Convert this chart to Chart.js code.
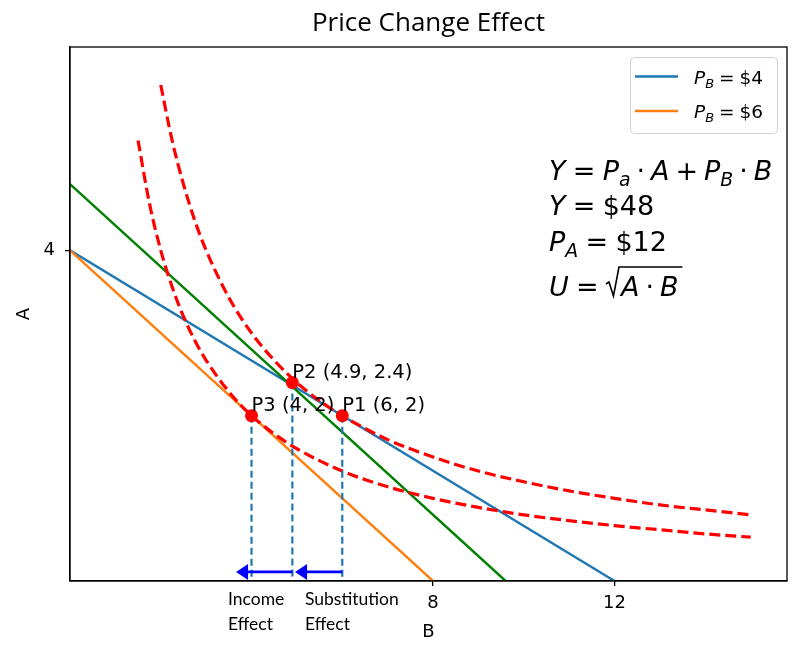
<!DOCTYPE html>
<html lang="en">
<head>
    <meta charset="UTF-8" />
    <title>Price Change Effect</title>
    <script src="https://cdn.jsdelivr.net/npm/chart.js"></script>
    <style>
        body {
            margin: 0;
            background-color: #ffffff;
        }
    </style>
</head>
<body>

<canvas id="priceChart" width="800" height="657"></canvas>

<script>
    // budget lines (B intercept, A intercept)
    const lineB4 = [0, 12];
    const lineA4 = [4, 0];
    const lineB6 = [0, 8];
    const lineA6 = [4, 0];
    const compB = [0, 9.6];
    const compA = [4.8, 0];

    // indifference curves
    const highCurveB = [2, 2.25, 2.5, 2.75, 3, 3.5, 4, 4.5, 5, 5.5, 6, 7, 8, 9, 10, 11, 12, 13, 14, 15];
    const highCurveA = [6, 5.33, 4.8, 4.36, 4, 3.43, 3, 2.67, 2.4, 2.18, 2, 1.71, 1.5, 1.33, 1.2, 1.09, 1, 0.92, 0.86, 0.8];
    const lowCurveB = [1.5, 1.75, 2, 2.25, 2.5, 2.75, 3, 3.5, 4, 4.5, 5, 6, 7, 8, 9, 10, 11, 12, 13, 14, 15];
    const lowCurveA = [5.33, 4.57, 4, 3.56, 3.2, 2.91, 2.67, 2.29, 2, 1.78, 1.6, 1.33, 1.14, 1, 0.89, 0.8, 0.73, 0.67, 0.62, 0.57, 0.53];

    // equilibrium points
    const pointB = [6, 4.9, 4];
    const pointA = [2, 2.4, 2];
    const pointLabels = ['P1 (6, 2)', 'P2 (4.9, 2.4)', 'P3 (4, 2)'];

    // effect arrows
    const arrowFrom = [6, 4.9];
    const arrowTo = [4.96, 3.66];
    const arrowLevel = 0.11;

    const xTicks = [8, 12];
    const yTicks = [4];

    const legendLabels = ['$4', '$6'];
    const legendColors = ['#1f77b4', '#ff7f0e'];

    const toXY = (bs, as) => bs.map((b, i) => ({x: b, y: as[i]}));

    const datasets = [
        {data: toXY(pointB, pointA), showLine: false, pointRadius: 6.5, pointBackgroundColor: 'red', pointBorderWidth: 0, order: 0},
        ...pointB.map((b, i) => ({
            data: toXY([b, b], [pointA[i], 0]),
            showLine: true, borderColor: '#1f77b4', borderWidth: 2.2, borderDash: [7, 4], pointRadius: 0, order: 1
        })),
        {data: toXY(highCurveB, highCurveA), showLine: true, borderColor: 'red', borderWidth: 3.2, borderDash: [11, 5], cubicInterpolationMode: 'monotone', pointRadius: 0, order: 2},
        {data: toXY(lowCurveB, lowCurveA), showLine: true, borderColor: 'red', borderWidth: 3.2, borderDash: [11, 5], cubicInterpolationMode: 'monotone', pointRadius: 0, order: 2},
        {data: toXY(compB, compA), showLine: true, borderColor: 'green', borderWidth: 2.4, pointRadius: 0, order: 3},
        {data: toXY(lineB6, lineA6), showLine: true, borderColor: '#ff7f0e', borderWidth: 2.4, pointRadius: 0, order: 3},
        {data: toXY(lineB4, lineA4), showLine: true, borderColor: '#1f77b4', borderWidth: 2.4, pointRadius: 0, order: 3}
    ];

    // draws a row of math pieces: [text, 'i' italic | 'r' roman | 's' subscript | 'g' gap]
    function mathRow(ctx, x, y, parts, size) {
        let cx = x;
        parts.forEach(([t, k]) => {
            if (k === 'g') { cx += t * size; return; }
            const fs = k === 's' ? size * 0.7 : size;
            ctx.font = (k === 'r' ? '' : 'italic ') + fs + 'px "DejaVu Sans"';
            ctx.fillText(t, cx, y + (k === 's' ? size * 0.22 : 0));
            cx += ctx.measureText(t).width;
        });
        return cx;
    }

    const R = 0.27;  // space around relations
    const M = 0.22;  // space around binary operators
    const extras = {
        id: 'extras',
        afterDatasetsDraw(chart) {
            const ctx = chart.ctx;
            const xs = chart.scales.x, ys = chart.scales.y;
            const area = chart.chartArea;
            ctx.save();

            // title, centred over the plot box
            ctx.fillStyle = '#000';
            ctx.font = '26px "Open Sans"';
            ctx.textAlign = 'center';
            ctx.textBaseline = 'middle';
            ctx.fillText('Price Change Effect', (area.left + area.right) / 2, 24);
            ctx.textAlign = 'left';

            // frame
            ctx.strokeStyle = '#000';
            ctx.lineWidth = 1.3;
            ctx.strokeRect(area.left, area.top, area.right - area.left, area.bottom - area.top);

            // arrows
            ctx.strokeStyle = 'blue';
            ctx.fillStyle = 'blue';
            arrowFrom.forEach((b, i) => {
                const x1 = xs.getPixelForValue(b);
                const x2 = xs.getPixelForValue(arrowTo[i]);
                const y = ys.getPixelForValue(arrowLevel);
                ctx.lineWidth = 2.8;
                ctx.beginPath();
                ctx.moveTo(x1, y);
                ctx.lineTo(x2 + 8, y);
                ctx.stroke();
                ctx.beginPath();
                ctx.moveTo(x2, y);
                ctx.lineTo(x2 + 12, y - 8);
                ctx.lineTo(x2 + 12, y + 8);
                ctx.closePath();
                ctx.fill();
            });

            // point labels
            ctx.fillStyle = '#000';
            ctx.font = '19.5px "DejaVu Sans"';
            ctx.textBaseline = 'middle';
            pointLabels.forEach((t, i) => {
                ctx.fillText(t, xs.getPixelForValue(pointB[i]), ys.getPixelForValue(pointA[i]) - 10);
            });

            // effect captions
            ctx.font = '17.5px Lato';
            ctx.fillText('Income', 228, 599);
            ctx.fillText('Effect', 228, 624);
            ctx.fillText('Substitution', 305, 599);
            ctx.fillText('Effect', 305, 624);

            // legend
            ctx.strokeStyle = '#d0d0d0';
            ctx.lineWidth = 1;
            ctx.fillStyle = 'rgba(255,255,255,0.8)';
            ctx.beginPath();
            ctx.roundRect(630.5, 57.5, 147, 76, 4);
            ctx.fill();
            ctx.stroke();
            ctx.textBaseline = 'alphabetic';
            legendLabels.forEach((t, i) => {
                const y = 76.5 + i * 34.5;
                ctx.strokeStyle = legendColors[i];
                ctx.lineWidth = 2.4;
                ctx.beginPath();
                ctx.moveTo(635, y);
                ctx.lineTo(678, y);
                ctx.stroke();
                ctx.fillStyle = '#000';
                mathRow(ctx, 694, y + 7, [['P', 'i'], ['B', 's'], [R, 'g'], ['=', 'r'], [R, 'g'], [t, 'r']], 18.5);
            });

            // formula block
            const fs = 27;
            mathRow(ctx, 549, 180, [['Y', 'i'], [R, 'g'], ['=', 'r'], [R, 'g'], ['P', 'i'], ['a', 's'], [M, 'g'], ['\u00b7', 'r'], [M, 'g'],
                ['A', 'i'], [M, 'g'], ['+', 'r'], [M, 'g'], ['P', 'i'], ['B', 's'], [M, 'g'], ['\u00b7', 'r'], [M, 'g'], ['B', 'i']], fs);
            mathRow(ctx, 549, 215, [['Y', 'i'], [R, 'g'], ['=', 'r'], [R, 'g'], ['$48', 'r']], fs);
            mathRow(ctx, 549, 251, [['P', 'i'], ['A', 's'], [R, 'g'], ['=', 'r'], [R, 'g'], ['$12', 'r']], fs);
            const by = 296;
            const sx = mathRow(ctx, 549, by, [['U', 'i'], [R, 'g'], ['=', 'r'], [R, 'g']], fs);
            const ex = mathRow(ctx, sx + 15, by, [['A', 'i'], [M, 'g'], ['\u00b7', 'r'], [M, 'g'], ['B', 'i']], fs);
            // radical sign
            ctx.strokeStyle = '#000';
            ctx.lineWidth = 1.6;
            ctx.beginPath();
            ctx.moveTo(sx, by - 12);
            ctx.lineTo(sx + 3, by - 14);
            ctx.lineTo(sx + 7.5, by);
            ctx.lineTo(sx + 13, by - 29);
            ctx.lineTo(ex + 4, by - 29);
            ctx.stroke();

            ctx.restore();
        }
    };

    new Chart(document.getElementById('priceChart'), {
        type: 'scatter',
        data: {datasets: datasets},
        options: {
            responsive: false,
            animation: false,
            layout: {padding: {left: 0, right: 13, top: 47, bottom: 0}},
            scales: {
                x: {
                    type: 'linear',
                    min: 0,
                    max: 15.8,
                    afterBuildTicks: s => { s.ticks = xTicks.map(v => ({value: v})); },
                    afterFit: s => { s.height = 76; },
                    grid: {drawOnChartArea: false, tickLength: 5, color: '#000', lineWidth: 1.3},
                    border: {color: '#000', width: 1.3},
                    ticks: {autoSkip: false, color: '#000', padding: 7, font: {family: 'DejaVu Sans', size: 18}},
                    title: {display: true, text: 'B', color: '#000', padding: {top: 0, bottom: 14}, font: {family: 'DejaVu Sans', size: 18}}
                },
                y: {
                    type: 'linear',
                    min: 0,
                    max: 6.46,
                    afterBuildTicks: s => { s.ticks = yTicks.map(v => ({value: v})); },
                    afterFit: s => { s.width = 70; },
                    grid: {drawOnChartArea: false, tickLength: 5, color: '#000', lineWidth: 1.3},
                    border: {color: '#000', width: 1.3},
                    ticks: {autoSkip: false, color: '#000', padding: 10, font: {family: 'DejaVu Sans', size: 18}},
                    title: {display: true, text: 'A', color: '#000', padding: {top: 14, bottom: 0}, font: {family: 'DejaVu Sans', size: 18}}
                }
            },
            plugins: {
                legend: {display: false},
                tooltip: {enabled: false},
                title: {display: false}
            }
        },
        plugins: [extras]
    });
</script>

</body>
</html>
